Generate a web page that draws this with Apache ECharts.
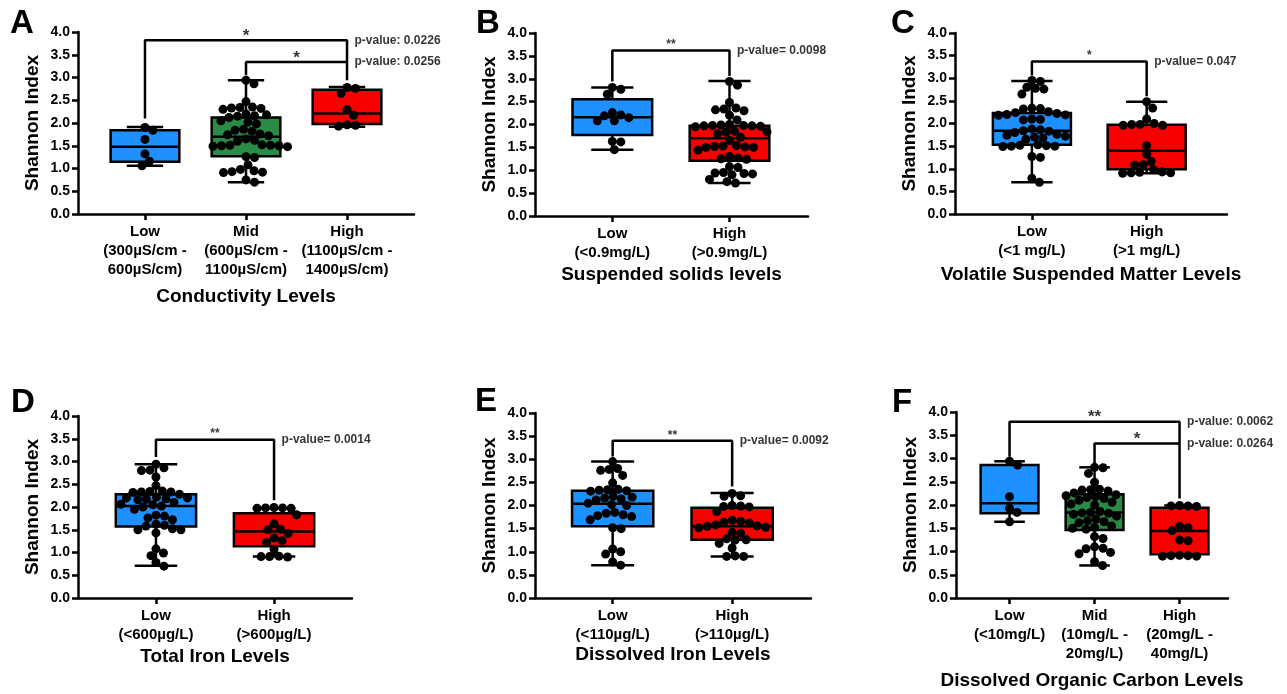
<!DOCTYPE html>
<html><head><meta charset="utf-8">
<script src="https://cdn.jsdelivr.net/npm/echarts@6/dist/echarts.min.js"></script>
<style>html,body{margin:0;padding:0;background:#fff}#c{width:1287px;height:694px}</style>
</head><body><div id="c"></div>
<script>
// ---------------- DATA ----------------
const yAxisTitle = 'Shannon Index';

// Panel A – Conductivity
const condTitle = 'Conductivity Levels';
const condCategories = ['Low\n(300µS/cm -\n600µS/cm)', 'Mid\n(600µS/cm -\n1100µS/cm)', 'High\n(1100µS/cm -\n1400µS/cm)'];
const condBoxes = [[1.06,1.15,1.48,1.84,1.91],[0.70,1.27,1.70,2.12,2.94],[1.92,1.98,2.21,2.73,2.79]]; // min,Q1,median,Q3,max
const condLow = [1.90,1.84,1.64,1.32,1.16,1.06];
const condMid = [2.94,2.86,2.47,2.35,2.34,2.33,2.32,2.30,2.20,2.18,2.16,2.15,2.12,2.05,2.02,1.98,1.86,1.84,1.82,1.76,1.74,1.72,1.65,1.62,1.60,1.52,1.51,1.51,1.50,1.50,1.49,1.48,1.26,1.24,1.08,0.98,0.95,0.93,0.92,0.91,0.75,0.70];
const condHigh = [2.78,2.76,2.65,2.29,2.17,1.96,1.93,1.95];
const condStars = ['*','*'];
const condPValues = ['p-value: 0.0226','p-value: 0.0256'];

// Panel B – Suspended solids
const ssTitle = 'Suspended solids levels';
const ssCategories = ['Low\n(<0.9mg/L)', 'High\n(>0.9mg/L)'];
const ssBoxes = [[1.45,1.77,2.16,2.55,2.81],[0.72,1.21,1.70,1.97,2.95]];
const ssLow = [2.81,2.77,2.66,2.26,2.21,2.19,2.15,2.08,2.08,1.63,1.62,1.45];
const ssHigh = [2.94,2.86,2.48,2.36,2.34,2.32,2.30,2.20,2.10,2.00,1.99,1.98,1.98,1.97,1.97,1.96,1.95,1.85,1.84,1.83,1.80,1.72,1.65,1.54,1.53,1.52,1.51,1.50,1.50,1.44,1.30,1.27,1.25,1.24,1.08,1.06,0.95,0.94,0.93,0.92,0.90,0.80,0.75,0.72];
const ssStars = ['**'];
const ssPValues = ['p-value= 0.0098'];

// Panel C – Volatile suspended matter
const vsmTitle = 'Volatile Suspended Matter Levels';
const vsmCategories = ['Low\n(<1 mg/L)', 'High\n(>1 mg/L)'];
const vsmBoxes = [[0.70,1.53,1.84,2.23,2.94],[0.90,0.99,1.40,1.97,2.48]];
const vsmLow = [2.95,2.93,2.80,2.78,2.76,2.65,2.34,2.33,2.32,2.26,2.24,2.22,2.20,2.19,2.18,2.10,2.09,2.08,1.88,1.86,1.84,1.83,1.80,1.76,1.74,1.72,1.70,1.68,1.65,1.53,1.52,1.51,1.50,1.50,1.49,1.27,1.25,0.79,0.70];
const vsmHigh = [2.48,2.34,2.10,2.00,1.98,1.96,1.96,1.98,1.51,1.32,1.16,1.09,1.08,0.98,0.92,0.91,0.90,0.91,0.93];
const vsmStars = ['*'];
const vsmPValues = ['p-value= 0.047'];

// Panel D – Total iron
const tfeTitle = 'Total Iron Levels';
const tfeCategories = ['Low\n(<600µg/L)', 'High\n(>600µg/L)'];
const tfeBoxes = [[0.71,1.57,2.02,2.28,2.94],[0.91,1.14,1.46,1.86,1.97]];
const tfeLow = [2.94,2.86,2.81,2.80,2.66,2.47,2.35,2.34,2.33,2.33,2.32,2.28,2.22,2.20,2.20,2.18,2.17,2.16,2.10,2.06,2.05,2.02,2.00,1.95,1.82,1.80,1.76,1.72,1.62,1.60,1.58,1.52,1.50,1.50,1.43,1.08,0.99,0.93,0.78,0.70];
const tfeHigh = [1.99,1.98,1.97,1.97,1.98,1.83,1.63,1.51,1.50,1.42,1.32,1.26,1.22,1.07,0.92,0.91,0.91,0.90];
const tfeStars = ['**'];
const tfePValues = ['p-value= 0.0014'];

// Panel E – Dissolved iron
const dfeTitle = 'Dissolved Iron Levels';
const dfeCategories = ['Low\n(<110µg/L)', 'High\n(>110µg/L)'];
const dfeBoxes = [[0.71,1.55,2.04,2.32,2.95],[0.90,1.26,1.55,1.95,2.27]];
const dfeLow = [2.95,2.80,2.78,2.76,2.65,2.49,2.35,2.34,2.33,2.32,2.31,2.20,2.18,2.16,2.14,2.12,2.05,2.02,2.00,1.85,1.83,1.80,1.78,1.76,1.69,1.52,1.50,1.06,1.00,0.95,0.78,0.71];
const dfeHigh = [2.26,2.21,2.20,2.00,1.99,1.98,1.97,1.87,1.68,1.66,1.64,1.62,1.58,1.56,1.55,1.53,1.52,1.42,1.40,1.28,1.26,1.25,1.18,1.08,0.91,0.90,0.90];
const dfeStars = ['**'];
const dfePValues = ['p-value= 0.0092'];

// Panel F – Dissolved organic carbon
const docTitle = 'Dissolved Organic Carbon Levels';
const docCategories = ['Low\n(<10mg/L)', 'Mid\n(10mg/L -\n20mg/L)', 'High\n(20mg/L -\n40mg/L)'];
const docBoxes = [[1.64,1.82,2.04,2.86,2.94],[0.70,1.46,1.84,2.23,2.81],[0.91,0.94,1.44,1.94,1.99]];
const docLow = [2.94,2.86,2.18,1.93,1.84,1.64];
const docMid = [2.81,2.80,2.68,2.49,2.34,2.33,2.32,2.30,2.26,2.22,2.20,2.18,2.16,2.14,2.10,2.06,2.02,2.00,1.86,1.84,1.83,1.82,1.80,1.76,1.70,1.66,1.64,1.62,1.55,1.52,1.50,1.48,1.32,1.28,1.10,1.07,1.06,0.98,0.95,0.78,0.70];
const docHigh = [1.99,1.98,1.98,1.97,1.54,1.51,1.45,1.25,1.23,0.92,0.91,0.91,0.90,0.90];
const docStars = ['**','*'];
const docPValues = ['p-value: 0.0062','p-value: 0.0264'];

// ---------------- LAYOUT / STYLE ----------------
const FONT = '"Liberation Sans", Arial, Helvetica, sans-serif';
const BLUE = '#1E90FF', GREEN = '#2A8B47', RED = '#F70000';
const BIG = 17, SMALL = 12;

const panels = [
  { letter:'A', letterPos:[10,7], grid:{left:78,top:32,width:336,height:182}, xRange:[0.337,3.663], title:condTitle, titleGap:73,
    cats:condCategories, boxes:condBoxes, points:[condLow,condMid,condHigh], colors:[BLUE,GREEN,RED],
    brackets:[[[1,2.10],[1,3.82],[3,3.82],[3,2.94]], [[2,3.05],[2,3.34],[3,3.34]]],
    stars:[[2,3.82,condStars[0],BIG],[2.5,3.34,condStars[1],BIG]],
    pvals:[[3,3.82,condPValues[0]],[3,3.34,condPValues[1]]] },
  { letter:'B', letterPos:[476,7], grid:{left:535,top:33,width:273,height:183}, xRange:[0.34,2.67], title:ssTitle, titleGap:49,
    cats:ssCategories, boxes:ssBoxes, points:[ssLow,ssHigh], colors:[BLUE,RED],
    brackets:[[[1,2.94],[1,3.62],[2,3.62],[2,3.06]]],
    stars:[[1.5,3.62,ssStars[0],SMALL]],
    pvals:[[2,3.62,ssPValues[0]]] },
  { letter:'C', letterPos:[891,7], grid:{left:955,top:33,width:272,height:181}, xRange:[0.33,2.70], title:vsmTitle, titleGap:51,
    cats:vsmCategories, boxes:vsmBoxes, points:[vsmLow,vsmHigh], colors:[BLUE,RED],
    brackets:[[[1,3.06],[1,3.37],[2,3.37],[2,2.60]]],
    stars:[[1.5,3.37,vsmStars[0],SMALL]],
    pvals:[[2,3.37,vsmPValues[0]]] },
  { letter:'D', letterPos:[11,386], grid:{left:78,top:416,width:274,height:182}, xRange:[0.34,2.66], title:tfeTitle, titleGap:49,
    cats:tfeCategories, boxes:tfeBoxes, points:[tfeLow,tfeHigh], colors:[BLUE,RED],
    brackets:[[[1,3.10],[1,3.48],[2,3.48],[2,2.15]]],
    stars:[[1.5,3.48,tfeStars[0],SMALL]],
    pvals:[[2,3.48,tfePValues[0]]] },
  { letter:'E', letterPos:[475,385], grid:{left:535,top:413,width:276,height:185}, xRange:[0.35,2.66], title:dfeTitle, titleGap:47,
    cats:dfeCategories, boxes:dfeBoxes, points:[dfeLow,dfeHigh], colors:[BLUE,RED],
    brackets:[[[1,3.06],[1,3.40],[2,3.40],[2,2.41]]],
    stars:[[1.5,3.40,dfeStars[0],SMALL]],
    pvals:[[2,3.40,dfePValues[0]]] },
  { letter:'F', letterPos:[892,386], grid:{left:956,top:412,width:272,height:186}, xRange:[0.37,3.57], title:docTitle, titleGap:73,
    cats:docCategories, boxes:docBoxes, points:[docLow,docMid,docHigh], colors:[BLUE,GREEN,RED],
    brackets:[[[1,3.04],[1,3.79],[3,3.79],[3,2.14]], [[2,2.89],[2,3.32],[3,3.32]]],
    stars:[[2,3.79,docStars[0],BIG],[2.5,3.32,docStars[1],BIG]],
    pvals:[[3,3.79,docPValues[0]],[3,3.32,docPValues[1]]] }
];

const DOT = 9;
// beeswarm spread of dots (layout only), computed in pixel space
function swarm(vals, cat, p) {
  const pxX = p.grid.width / (p.xRange[1] - p.xRange[0]);
  const pxY = p.grid.height / 4;
  const D = 8.4;
  const placed = [], out = [];
  vals.slice().sort((a,b)=>b-a).forEach(v => {
    const y = v * pxY;
    for (let k = 0; k < 600; k++) {
      const off = k === 0 ? 0 : ((k % 2) ? 1 : -1) * Math.ceil(k/2) * 0.5;
      if (placed.every(q => (q[0]-off)*(q[0]-off) + (q[1]-y)*(q[1]-y) >= D*D)) {
        placed.push([off, y]); out.push([cat + off / pxX, v]); break;
      }
    }
  });
  return out;
}

function renderBox(params, api) {
  const x = api.value(0);
  const mn = api.value(1), q1 = api.value(2), md = api.value(3), q3 = api.value(4), mx = api.value(5);
  const unit = api.size([1, 0])[0];
  const bw = unit * 0.68, cw = unit * 0.36;
  const pMin = api.coord([x, mn]), pQ1 = api.coord([x, q1]), pMd = api.coord([x, md]), pQ3 = api.coord([x, q3]), pMax = api.coord([x, mx]);
  const cx = pMin[0];
  const ls = { stroke:'#000', lineWidth:2.5 };
  return { type:'group', children:[
    { type:'line', shape:{x1:cx, y1:pMin[1], x2:cx, y2:pQ1[1]}, style:ls },
    { type:'line', shape:{x1:cx, y1:pQ3[1], x2:cx, y2:pMax[1]}, style:ls },
    { type:'line', shape:{x1:cx-cw/2, y1:pMin[1], x2:cx+cw/2, y2:pMin[1]}, style:ls },
    { type:'line', shape:{x1:cx-cw/2, y1:pMax[1], x2:cx+cw/2, y2:pMax[1]}, style:ls },
    { type:'rect', shape:{x:cx-bw/2, y:pQ3[1], width:bw, height:pQ1[1]-pQ3[1]}, style:{fill:api.visual('color'), stroke:'#000', lineWidth:2.5} },
    { type:'line', shape:{x1:cx-bw/2, y1:pMd[1], x2:cx+bw/2, y2:pMd[1]}, style:ls }
  ]};
}

const option = { animation:false, grid:[], xAxis:[], yAxis:[], series:[], graphic:[] };
const axisLineStyle = { color:'#000', width:2.5 };
const txt = { color:'#000', fontWeight:'bold', fontFamily:FONT };

panels.forEach((p, i) => {
  option.grid.push(Object.assign({}, p.grid));
  const ticks = p.cats.map((_, j) => j + 1);
  option.xAxis.push({
    gridIndex:i, type:'value', min:p.xRange[0], max:p.xRange[1],
    name:p.title, nameLocation:'middle', nameGap:p.titleGap,
    nameTextStyle:Object.assign({ fontSize:19 }, txt),
    axisLine:{ show:true, onZero:false, lineStyle:axisLineStyle },
    axisTick:{ show:true, customValues:ticks, length:6, lineStyle:{ color:'#000', width:2.5 } },
    axisLabel:Object.assign({ customValues:ticks, formatter:v => p.cats[Math.round(v)-1], fontSize:15, lineHeight:19, margin:8 }, txt),
    splitLine:{ show:false }
  });
  option.yAxis.push({
    gridIndex:i, type:'value', min:0, max:4, interval:0.5,
    name:yAxisTitle, nameLocation:'middle', nameGap:36,
    nameTextStyle:Object.assign({ fontSize:19 }, txt),
    axisLine:{ show:true, onZero:false, lineStyle:axisLineStyle },
    axisTick:{ show:true, length:6, lineStyle:{ color:'#000', width:2.5 } },
    axisLabel:Object.assign({ formatter:v => v.toFixed(1), fontSize:14, margin:8 }, txt),
    splitLine:{ show:false }
  });
  option.series.push({
    type:'custom', xAxisIndex:i, yAxisIndex:i, renderItem:renderBox, z:2,
    encode:{ x:0, y:[1,2,3,4,5] },
    data:p.boxes.map((b, j) => ({ value:[j+1].concat(b), itemStyle:{ color:p.colors[j] } }))
  });
  p.brackets.forEach(br => option.series.push({
    type:'line', xAxisIndex:i, yAxisIndex:i, data:br, symbol:'none', z:3,
    lineStyle:{ color:'#000', width:2.5 }
  }));
  p.points.forEach((vals, j) => option.series.push({
    type:'scatter', xAxisIndex:i, yAxisIndex:i, z:4, symbolSize:DOT,
    itemStyle:{ color:'#000', opacity:1 }, data:swarm(vals, j+1, p)
  }));
  option.series.push({
    type:'scatter', xAxisIndex:i, yAxisIndex:i, z:5, symbolSize:1, itemStyle:{ color:'rgba(0,0,0,0)' },
    data:p.stars.map(s => ({ value:[s[0], s[1]], label:Object.assign({ show:true, position:'top', distance: s[3] === BIG ? -5 : -1, formatter:s[2], fontSize:s[3] }, txt) }))
  });
  option.series.push({
    type:'scatter', xAxisIndex:i, yAxisIndex:i, z:5, symbolSize:1, itemStyle:{ color:'rgba(0,0,0,0)' },
    data:p.pvals.map(s => ({ value:[s[0], s[1]], label:Object.assign({ show:true, position:'right', distance:7, formatter:s[2], fontSize:12 }, txt) }))
  });
  option.graphic.push({ type:'text', left:p.letterPos[0], top:p.letterPos[1], style:{ text:p.letter, font:'bold 33px ' + FONT, fill:'#000' } });
});

const chart = echarts.init(document.getElementById('c'), null, { renderer:'canvas' });
chart.setOption(option);
</script>
</body></html>
